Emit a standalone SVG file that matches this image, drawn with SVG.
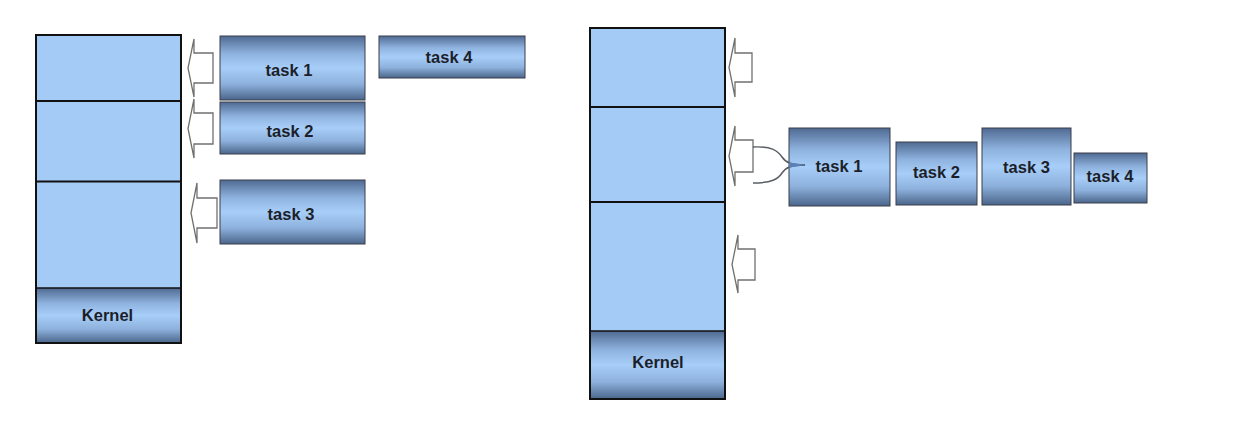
<svg xmlns="http://www.w3.org/2000/svg" width="1240" height="448" viewBox="0 0 1240 448">
<defs>
<linearGradient id="g" x1="0" y1="0" x2="0" y2="1">
<stop offset="0" stop-color="#4f6a92"/>
<stop offset="0.28" stop-color="#8fb3df"/>
<stop offset="0.5" stop-color="#a7cef8"/>
<stop offset="0.75" stop-color="#8db1dc"/>
<stop offset="1" stop-color="#4b658a"/>
</linearGradient>
<style>
.task{fill:url(#g);stroke:#3a3f4a;stroke-width:1}
.mem{fill:#a4cbf5;stroke:#111;stroke-width:2}
.div{stroke:#111;stroke-width:2}
.lbl{font-family:"Liberation Sans",Arial,sans-serif;font-weight:bold;font-size:16.5px;fill:#1c1f2a;text-anchor:middle}
.arr{fill:#fff;stroke:#707070;stroke-width:1.3;stroke-linejoin:miter}
.con{fill:none;stroke:#5a5f66;stroke-width:1.5}
</style>
</defs>
<rect width="1240" height="448" fill="#fff"/>

<g id="left-stack">
<rect class="mem" x="36" y="35" width="145" height="308"/>
<rect class="task" x="36" y="288" width="145" height="55" style="stroke:#111;stroke-width:1.5"/>
<line class="div" x1="36" y1="101" x2="181" y2="101"/>
<line class="div" x1="36" y1="181.5" x2="181" y2="181.5"/>
<rect x="36" y="35" width="145" height="308" fill="none" stroke="#111" stroke-width="2"/>
<text class="lbl" x="107.5" y="321">Kernel</text>
</g>
<g id="l-task1"><rect class="task" x="220" y="36" width="145" height="64"/><text class="lbl" x="289" y="76">task 1</text></g>
<g id="l-task2"><rect class="task" x="220" y="102" width="145" height="52"/><text class="lbl" x="290" y="136.5">task 2</text></g>
<g id="l-task3"><rect class="task" x="220" y="180" width="145" height="64"/><text class="lbl" x="291" y="220">task 3</text></g>
<g id="l-task4"><rect class="task" x="379" y="36" width="146" height="42"/><text class="lbl" x="449" y="63">task 4</text></g>

<g id="right-stack">
<rect class="mem" x="590" y="28" width="135" height="371"/>
<rect class="task" x="590" y="331" width="135" height="68" style="stroke:#111;stroke-width:1.5"/>
<line class="div" x1="590" y1="107" x2="725" y2="107"/>
<line class="div" x1="590" y1="202" x2="725" y2="202"/>
<rect x="590" y="28" width="135" height="371" fill="none" stroke="#111" stroke-width="2"/>
<text class="lbl" x="658" y="367.5">Kernel</text>
</g>
<g id="r-task1"><rect class="task" x="789" y="128" width="101" height="78"/><text class="lbl" x="839" y="171.5">task 1</text></g>
<g id="r-task2"><rect class="task" x="896" y="142" width="81" height="63"/><text class="lbl" x="936.5" y="178">task 2</text></g>
<g id="r-task3"><rect class="task" x="982" y="128" width="89" height="77"/><text class="lbl" x="1026.5" y="172.5">task 3</text></g>
<g id="r-task4"><rect class="task" x="1074" y="153" width="73" height="50"/><text class="lbl" x="1110" y="182">task 4</text></g>

<g id="connectors">
<path class="arr" d="M213,53 L194,53 L194,39 L188,68 L194,97 L194,83 L213,83 Z"/>
<path class="arr" d="M213,113 L194,113 L194,99 L188,128.5 L194,158 L194,144 L213,144 Z"/>
<path class="arr" d="M217,198 L197,198 L197,183 L191,213 L197,243 L197,228 L217,228 Z"/>
<path class="arr" d="M752,53 L735,53 L735,38 L729,67.5 L735,97 L735,82 L752,82 Z"/>
<path class="arr" d="M753,140 L735,140 L735,126 L729,156 L735,186 L735,172 L753,172 Z"/>
<path class="arr" d="M755,249 L738,249 L738,235 L732,264.5 L738,293 L738,280 L755,280 Z"/>
<path class="con" d="M753,147 C772,146 778,151 782,157 C786,163 792,165 805,165"/>
<path class="con" d="M753,183 C772,183 778,179 782,173 C786,167 792,165 805,165"/>
<path d="M789,162.5 L806,165 L789,167.5 Z" fill="#5a80b4"/>
</g>
</svg>
